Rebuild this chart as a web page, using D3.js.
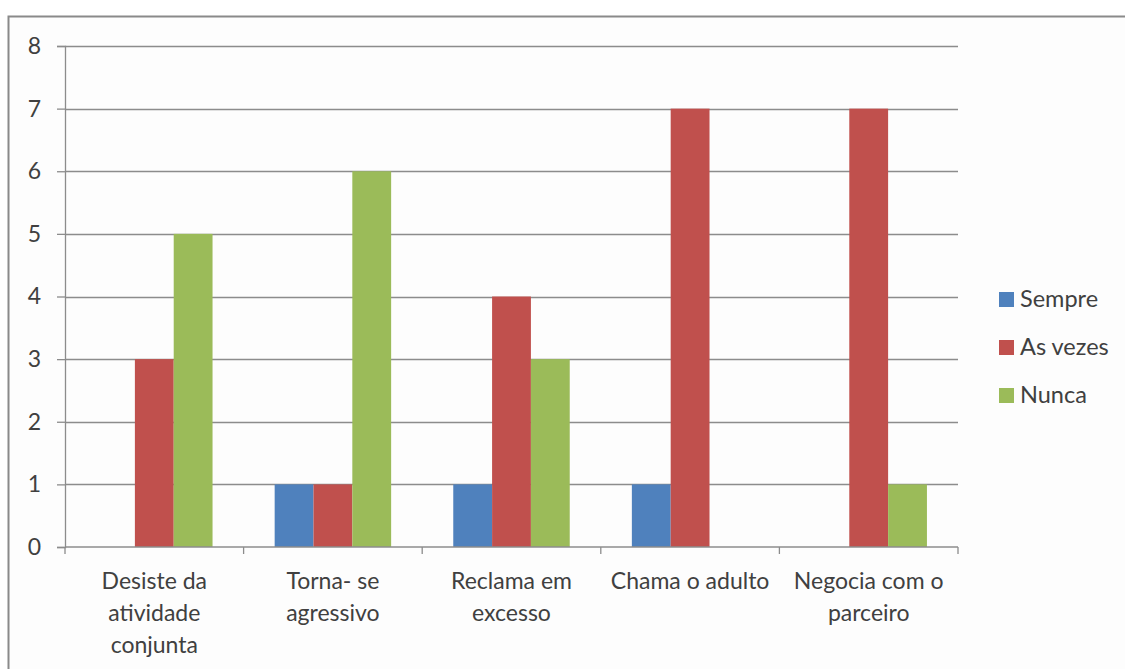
<!DOCTYPE html>
<html>
<head>
<meta charset="utf-8">
<script src="https://cdn.jsdelivr.net/npm/d3@7"></script>
<style>
  html, body { margin: 0; padding: 0; background: #fff; }
  svg { display: block; }
  text { font-family: Lato, "Open Sans", sans-serif; fill: #404040; }
</style>
</head>
<body>
<svg id="chart" width="1125" height="669"></svg>
<script>
const categories = [
  ["Desiste da", "atividade", "conjunta"],
  ["Torna- se", "agressivo"],
  ["Reclama em", "excesso"],
  ["Chama o adulto"],
  ["Negocia com o", "parceiro"]
];
const seriesNames = ["Sempre", "As vezes", "Nunca"];
const sempre = [0, 1, 1, 1, 0];
const asVezes = [3, 1, 4, 7, 7];
const nunca = [5, 6, 3, 0, 1];
const yTicks = [0, 1, 2, 3, 4, 5, 6, 7, 8];
const colors = ["#4F81BD", "#C0504D", "#9BBB59"];

const seriesValues = [sempre, asVezes, nunca];
const svg = d3.select("#chart");

// Chart area frame
svg.append("rect")
  .attr("x", 8.5).attr("y", 16.5)
  .attr("width", 1130).attr("height", 670)
  .attr("fill", "#fdfdfd").attr("stroke", "#8a8a8a").attr("stroke-width", 2);

const plot = { left: 65, right: 958, top: 46, bottom: 547 };

const x0 = d3.scaleBand()
  .domain(d3.range(categories.length))
  .range([plot.left, plot.right])
  .paddingInner(0).paddingOuter(0);

const x1 = d3.scaleBand()
  .domain(d3.range(seriesNames.length))
  .range([0, x0.bandwidth()])
  .paddingOuter(0.8).paddingInner(0);

const y = d3.scaleLinear().domain([0, 8]).range([plot.bottom, plot.top]);

// Horizontal gridlines
svg.append("g").selectAll("line")
  .data(yTicks.filter(d => d > 0))
  .join("line")
  .attr("x1", plot.left).attr("x2", plot.right)
  .attr("y1", d => Math.round(y(d)) + 0.5).attr("y2", d => Math.round(y(d)) + 0.5)
  .attr("stroke", "#8c8c8c").attr("stroke-width", 1.3);

// Bars
const groups = svg.append("g").selectAll("g")
  .data(categories.map((c, i) => i))
  .join("g")
  .attr("transform", i => `translate(${x0(i)},0)`);

groups.selectAll("rect")
  .data(i => seriesValues.map((s, k) => ({ k, v: s[i] })))
  .join("rect")
  .attr("x", d => x1(d.k))
  .attr("width", x1.bandwidth())
  .attr("y", d => y(d.v))
  .attr("height", d => y(0) - y(d.v))
  .attr("fill", d => colors[d.k]);

// Y axis
const yAxis = svg.append("g")
  .attr("transform", `translate(${plot.left},0)`)
  .call(d3.axisLeft(y).tickValues(yTicks).tickSize(8).tickPadding(16).tickFormat(d3.format("d")));
yAxis.select(".domain").attr("stroke", "#8c8c8c").attr("stroke-width", 1.3);
yAxis.selectAll(".tick line").attr("stroke", "#8c8c8c").attr("stroke-width", 1.3);
yAxis.selectAll(".tick text")
  .attr("font-size", 23).attr("fill", "#404040")
  .attr("font-family", "Lato, 'Open Sans', sans-serif");

// X axis
const xAxis = svg.append("g")
  .attr("transform", `translate(0,${plot.bottom})`);
xAxis.append("line")
  .attr("x1", plot.left).attr("x2", plot.right)
  .attr("stroke", "#8c8c8c").attr("stroke-width", 1.3);
xAxis.selectAll("line.tick")
  .data(d3.range(categories.length + 1))
  .join("line").attr("class", "tick")
  .attr("x1", i => i < categories.length ? x0(i) : plot.right)
  .attr("x2", i => i < categories.length ? x0(i) : plot.right)
  .attr("y1", 0).attr("y2", 7)
  .attr("stroke", "#8c8c8c").attr("stroke-width", 1.3);

xAxis.selectAll("text")
  .data(categories)
  .join("text")
  .attr("text-anchor", "middle")
  .attr("font-size", 23)
  .attr("x", (d, i) => x0(i) + x0.bandwidth() / 2)
  .each(function(lines) {
    d3.select(this).selectAll("tspan")
      .data(lines)
      .join("tspan")
      .attr("x", d3.select(this).attr("x"))
      .attr("y", (l, j) => 42 + j * 32)
      .text(l => l);
  });

// Legend
const legend = svg.append("g").attr("transform", "translate(999,307)");
const items = legend.selectAll("g")
  .data(seriesNames)
  .join("g")
  .attr("transform", (d, i) => `translate(0,${i * 48})`);
items.append("rect")
  .attr("x", 0).attr("y", -15).attr("width", 15).attr("height", 15)
  .attr("fill", (d, i) => colors[i]);
items.append("text")
  .attr("x", 21).attr("y", 0)
  .attr("font-size", 23.5)
  .text(d => d);
</script>
</body>
</html>
